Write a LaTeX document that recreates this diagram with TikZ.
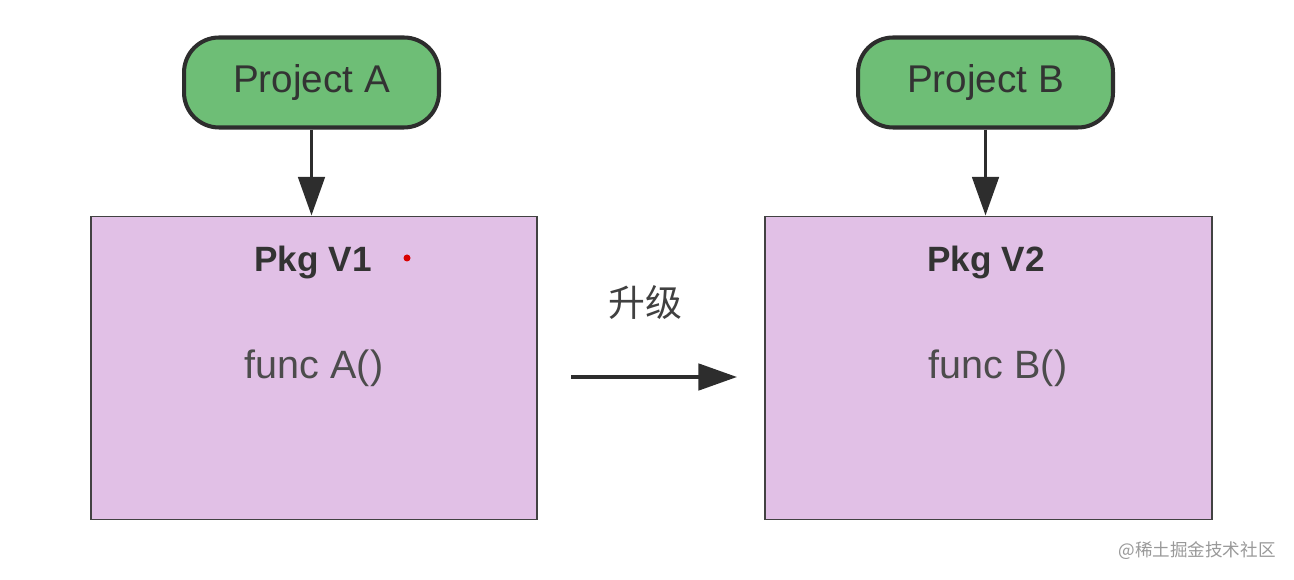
\documentclass[tikz,border=0pt]{standalone}
\usepackage{fontspec}
\setmainfont{Liberation Sans}
\newfontfamily\cjkfont{Noto Sans CJK SC}
\usetikzlibrary{arrows.meta}
\definecolor{projgreen}{RGB}{110,190,118}
\definecolor{pkgpurple}{RGB}{225,192,230}
\definecolor{darkline}{RGB}{45,45,45}
\tikzset{
	project/.style={draw=darkline, line width=2.3pt, fill=projgreen, rounded corners=0.7cm,
		minimum width=5.1cm, minimum height=1.8cm, font=\fontsize{22}{26}\selectfont, text=black!80},
	pkgbox/.style={draw=darkline!90, line width=1.1pt, fill=pkgpurple,
		minimum width=8.94cm, minimum height=6.06cm},
	flow/.style={-{Triangle[length=22pt,width=15pt]}, line width=2.2pt, draw=darkline},
}
\begin{document}
\begin{tikzpicture}[x=0.02cm, y=-0.02cm]
		\useasboundingbox (0,0) rectangle (1294,580);
		\node[project] (projA) at (311.5,82.5) {Project A};
		\node[project] (projB) at (985.5,82.5) {Project B};
		\node[pkgbox] (pkgA) at (314,368) {};
		\node[pkgbox] (pkgB) at (988.5,368) {};
		\draw[flow] (projA.south) -- (projA.south |- pkgA.north);
		\draw[flow] (projB.south) -- (projB.south |- pkgB.north);
		\node[font=\bfseries\fontsize{20}{24}\selectfont, text=black!80] (titleA) at (313,262) {Pkg V1};
		\node[font=\bfseries\fontsize{20}{24}\selectfont, text=black!80] (titleB) at (986,262) {Pkg V2};
		\node[font=\fontsize{22.5}{26}\selectfont, text=black!70] (funcA) at (314,368) {func A()};
		\node[font=\fontsize{22.5}{26}\selectfont, text=black!70] (funcB) at (998,368) {func B()};
		% upgrade arrow between the two packages
		\coordinate (upL) at (571,377);
		\coordinate (upR) at (737,377);
		\draw[flow] (upL) -- (upR);
		\node[font=\cjkfont\fontsize{21}{24}\selectfont, text=black!75] (upgrade) at (645,302) {升级};
		\fill[red!85!black] (407,258) circle (0.07cm);
		\node[font=\cjkfont\fontsize{10}{12}\selectfont, text=black!40] (mark) at (1197,551) {@稀土掘金技术社区};
	\end{tikzpicture}
\end{document}
